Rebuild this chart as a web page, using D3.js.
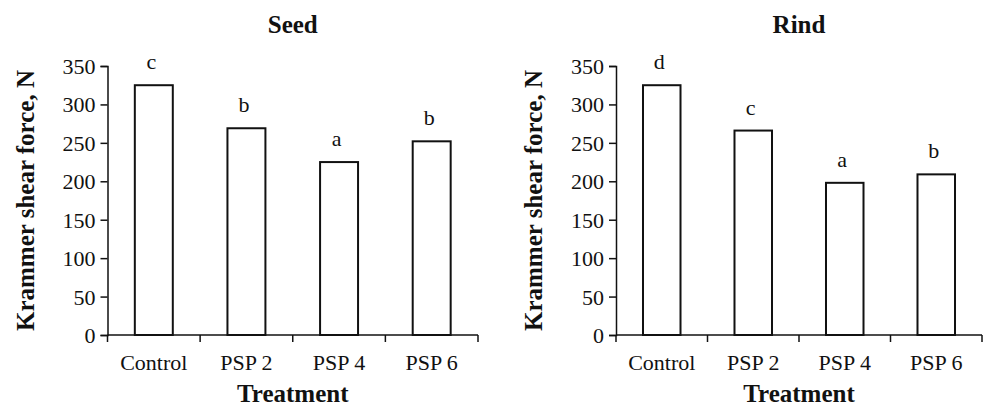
<!DOCTYPE html>
<html>
<head>
<meta charset="utf-8">
<style>
  * { margin:0; padding:0 }
  body { background:#fff; overflow:hidden; }
  text { font-family: "Liberation Serif", "Times New Roman", serif; fill:#111; }
  .tick text { font-size:22px; }
  .lbl { font-size:25px; font-weight:bold; }
</style>
<script src="https://cdn.jsdelivr.net/npm/d3@7"></script>
</head>
<body>
<script>
var categories = ["Control", "PSP 2", "PSP 4", "PSP 6"];
var yTicks = [0, 50, 100, 150, 200, 250, 300, 350];
var seedValues = [325, 269, 225, 252];
var seedLetters = ["c", "b", "a", "b"];
var rindValues = [325, 266, 198, 209];
var rindLetters = ["d", "c", "a", "b"];

var width = 985, height = 405;
var svg = d3.select("body").append("svg")
    .attr("width", width)
    .attr("height", height);

var panels = [
  { title: "Seed", values: seedValues, letters: seedLetters, x0: 107.5, x1: 478 },
  { title: "Rind", values: rindValues, letters: rindLetters, x0: 616, x1: 982 }
];

var plotTop = 66, plotBottom = 335;

var y = d3.scaleLinear().domain([0, 350]).range([plotBottom, plotTop]);

panels.forEach(function(p) {
  var g = svg.append("g");

  var x = d3.scaleBand()
      .domain(categories)
      .range([p.x0, p.x1])
      .paddingInner(0.59)
      .paddingOuter(0.295);

  // y axis
  var ya = g.append("g")
      .attr("transform", "translate(" + p.x0 + ",0)")
      .call(d3.axisLeft(y).tickValues(yTicks).tickSize(7).tickPadding(5));
  ya.attr("font-size", null).attr("font-family", null);
  ya.select(".domain").attr("stroke", "#111").attr("stroke-width", 1.5);
  ya.selectAll(".tick line").attr("stroke", "#111").attr("stroke-width", 1.5);
  ya.selectAll(".tick text").attr("dy", "0.34em");

  // x axis: ticks on category boundaries
  var step = (p.x1 - p.x0) / categories.length;
  var bounds = d3.range(categories.length + 1).map(function(i) { return p.x0 + i * step; });
  g.append("line")
      .attr("x1", p.x0).attr("x2", p.x1)
      .attr("y1", plotBottom).attr("y2", plotBottom)
      .attr("stroke", "#111").attr("stroke-width", 1.5);
  g.selectAll(".xt").data(bounds).enter().append("line")
      .attr("x1", function(d) { return d; }).attr("x2", function(d) { return d; })
      .attr("y1", plotBottom).attr("y2", plotBottom + 7)
      .attr("stroke", "#111").attr("stroke-width", 1.5);
  g.selectAll(".cat").data(categories).enter().append("text")
      .attr("x", function(d) { return x(d) + x.bandwidth() / 2; })
      .attr("y", 370)
      .attr("text-anchor", "middle")
      .style("font-size", "22px")
      .text(function(d) { return d; });

  // bars
  g.selectAll(".bar").data(p.values).enter().append("rect")
      .attr("x", function(d, i) { return x(categories[i]); })
      .attr("y", function(d) { return y(d); })
      .attr("width", x.bandwidth())
      .attr("height", function(d) { return plotBottom - y(d); })
      .attr("fill", "#fff")
      .attr("stroke", "#111")
      .attr("stroke-width", 2);

  // significance letters
  g.selectAll(".let").data(p.values).enter().append("text")
      .attr("x", function(d, i) { return x(categories[i]) + x.bandwidth() / 2 - 2.5; })
      .attr("y", function(d) { return y(d) - 16; })
      .attr("text-anchor", "middle")
      .style("font-size", "22px")
      .text(function(d, i) { return p.letters[i]; });

  var cx = (p.x0 + p.x1) / 2;
  g.append("text").attr("class", "lbl")
      .attr("x", cx).attr("y", 33)
      .attr("text-anchor", "middle")
      .text(p.title);
  g.append("text").attr("class", "lbl")
      .attr("x", cx).attr("y", 402)
      .attr("text-anchor", "middle")
      .text("Treatment");
  g.append("text").attr("class", "lbl")
      .attr("transform", "translate(" + (p.x0 - 74) + "," + ((plotTop + plotBottom) / 2) + ")rotate(-90)")
      .attr("text-anchor", "middle")
      .text("Krammer shear force, N");
});
</script>
</body>
</html>
